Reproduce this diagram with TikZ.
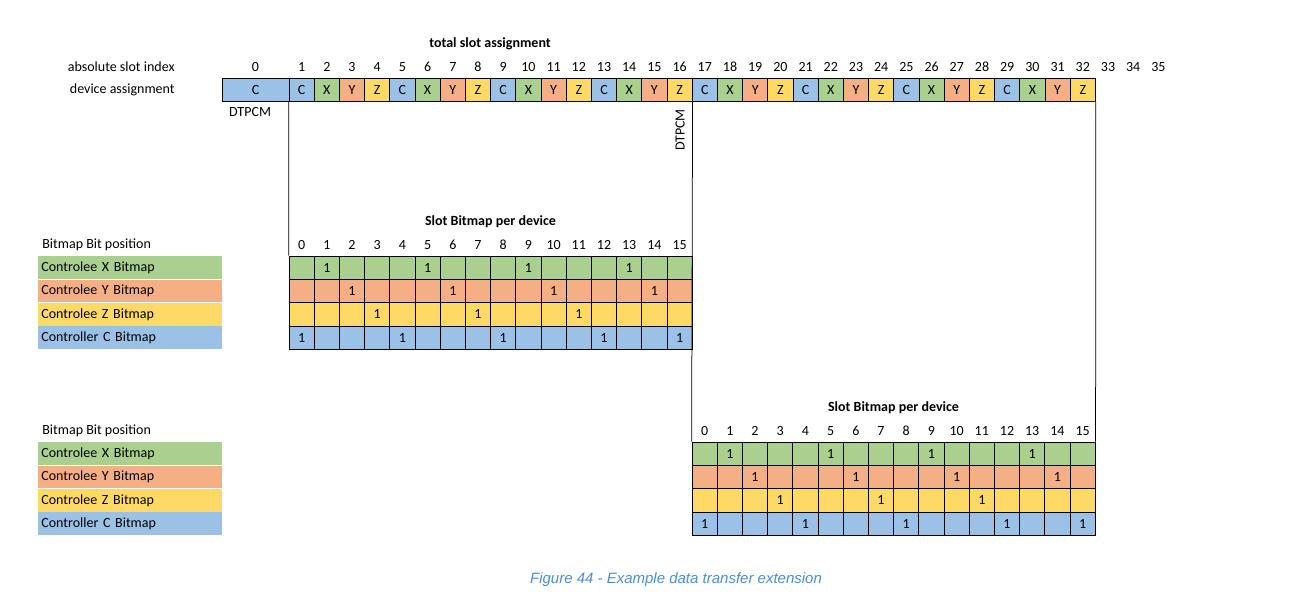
\documentclass[tikz,border=0pt]{standalone}
\usepackage{fontspec}
\setmainfont{Carlito}
\newfontfamily\capfont{Liberation Sans}
\definecolor{cgreen}{HTML}{A9D08E}
\definecolor{corange}{HTML}{F4B084}
\definecolor{cyellow}{HTML}{FFD966}
\definecolor{cblue}{HTML}{9BC2E6}
\definecolor{capblue}{HTML}{4A8FD3}
\tikzset{every picture/.style={line width=0.75pt}}
\tikzset{
  cell/.style={draw, minimum width=25.2pt, minimum height=22.5pt, inner sep=0pt, font=\fontsize{14}{16}\selectfont},
  lbl/.style={inner sep=0pt, font=\fontsize{14}{16}\selectfont},
  row/.style={minimum width=184pt, minimum height=22.5pt, inner sep=0pt, anchor=west, font=\fontsize{14}{16}\selectfont, text width=178pt, align=left}
}

\begin{document}
\begin{tikzpicture}[x=1pt,y=-1pt]
\useasboundingbox (0,0) rectangle (1305,606);

% top slot assignment
\node [lbl, font=\bfseries\fontsize{14}{16}\selectfont] (ttl) at (490,44) {total slot assignment};
\node [lbl, anchor=east] (absl) at (175,67) {absolute slot index};
\node [lbl, anchor=east] (devl) at (175,90) {device assignment};
\node [cell, fill=cblue, minimum width=67pt] (s0) at (255.5,90) {C};
\node [lbl] (i0) at (255.5,67) {0};
\foreach \i in {1,...,32} {
  \pgfmathtruncatemacro{\m}{mod(\i-1,4)}
  \ifcase\m \def\cc{cblue}\def\tt{C}\or \def\cc{cgreen}\def\tt{X}\or \def\cc{corange}\def\tt{Y}\or \def\cc{cyellow}\def\tt{Z}\fi
  \node [cell, fill=\cc] (s\i) at (289+25.2*\i-12.6,90) {\tt};
}
\foreach \i in {1,...,35}
  \node [lbl] (i\i) at (289+25.2*\i-12.6,67) {\i};
\node [lbl] (dt1) at (250,112) {DTPCM};
\node [lbl, rotate=90] (dt2) at (680,130) {DTPCM};

% bitmap tables
\foreach \t/\x/\y in {a/289/256, b/692/442} {
  \node [lbl, font=\bfseries\fontsize{14}{16}\selectfont] (h\t) at (\x+201.5,\y-34) {Slot Bitmap per device};
  \node [lbl, anchor=west] (p\t) at (42,\y-11) {Bitmap Bit position};
  \foreach \r/\cc/\nm [count=\k from 0] in {X/cgreen/Controlee X Bitmap, Y/corange/Controlee Y Bitmap, Z/cyellow/Controlee Z Bitmap, C/cblue/Controller C Bitmap} {
    \node [row, fill=\cc] (l\t\r) at (38,\y+11.7+23.3*\k) {\nm};
    \foreach \j in {0,...,15} {
      \pgfmathtruncatemacro{\q}{mod(\j,4)}
      \pgfmathtruncatemacro{\one}{(\q==\k+1) || (\k==3 && (\q==0 || \j==15)) ? 1 : 0}
      \ifnum\j=15 \ifnum\k=2 \def\one{0}\fi \fi
      \node [cell, fill=\cc, minimum height=23.3pt] (\t\r\j) at (\x+25.2*\j+12.6,\y+11.7+23.3*\k) {\ifnum\one=1 1\fi};
    }
  }
  \foreach \j in {0,...,15}
    \node [lbl] (n\t\j) at (\x+25.2*\j+12.6,\y-11) {\j};
}

% frame lines
\draw (s1.south west) -- (aX0.north west);
\draw (s16.south east) -- (bX0.north west);
\draw (s32.south east) -- (bX15.north east);

% caption
\node [lbl, font=\capfont\itshape\fontsize{15}{18}\selectfont, text=capblue] (cap) at (676,580) {Figure 44 - Example data transfer extension};
\end{tikzpicture}
\end{document}
